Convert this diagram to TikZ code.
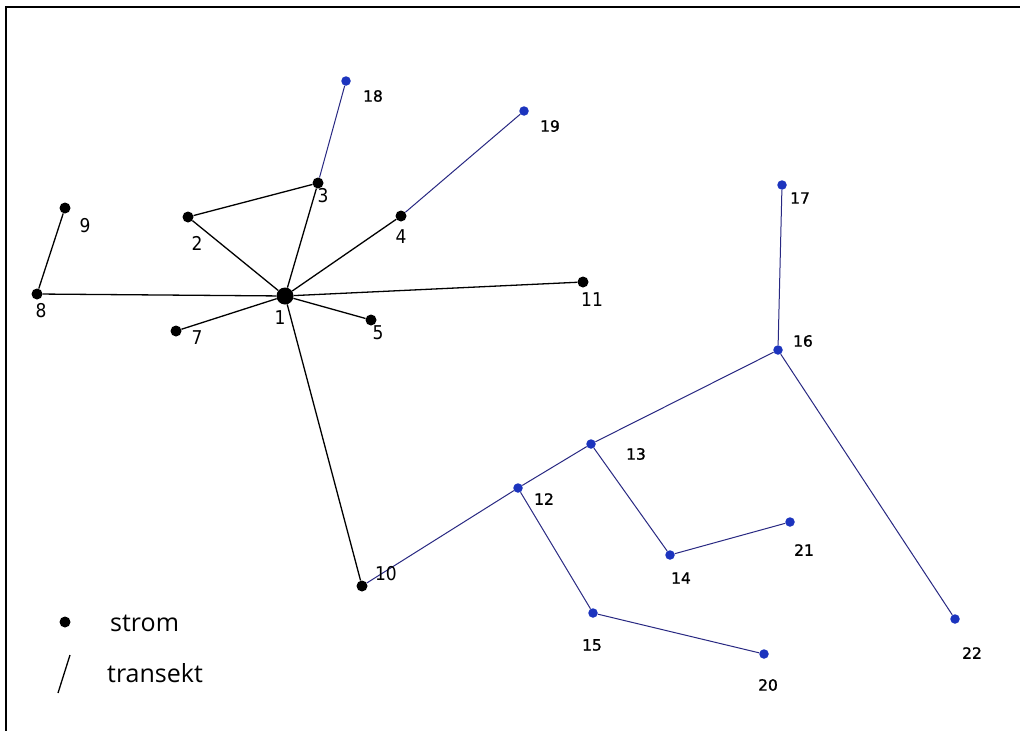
\documentclass[tikz,border=0pt]{standalone}
\usepackage{fontspec}
\setmainfont{DejaVu Sans}
\newfontfamily\legfont{Open Sans}
\newfontfamily\blkfont{DejaVu Sans Condensed}
\newfontfamily\blufont[FakeBold=1.2]{DejaVu Sans}
\definecolor{dotblue}{RGB}{28,52,190}
\definecolor{lineblue}{RGB}{40,40,130}
\begin{document}
\begin{tikzpicture}[x=1pt,y=-1pt,
  strom/.style={circle,fill=black,inner sep=0pt,minimum size=11pt},
  bigstrom/.style={circle,fill=black,inner sep=0pt,minimum size=17pt},
  bdot/.style={circle,fill=dotblue,inner sep=0pt,minimum size=9.5pt},
  blk/.style={black,line width=1.3pt},
  blu/.style={lineblue,line width=1pt},
  lab/.style={font=\blkfont\fontsize{19}{19}\selectfont,inner sep=0pt},
  blab/.style={font=\blufont\fontsize{15.5}{15.5}\selectfont,inner sep=0pt},
  leg/.style={font=\legfont\fontsize{25}{25}\selectfont,inner sep=0pt,anchor=west}]
\useasboundingbox (0,0) rectangle (1020,731);
\fill[white] (0,0) rectangle (1020,731);
\draw[line width=2pt] (1020,7) -- (6,7) -- (6,731);
% black nodes
\node[bigstrom] (n1) at (285,296) {};
\node[strom] (n2) at (188,217) {};
\node[strom] (n3) at (318,183) {};
\node[strom] (n4) at (401,216) {};
\node[strom] (n5) at (371,320) {};
\node[strom] (n7) at (176,331) {};
\node[strom] (n8) at (37,294) {};
\node[strom] (n9) at (65,208) {};
\node[strom] (n10) at (362,586) {};
\node[strom] (n11) at (583,282) {};
% blue nodes
\node[bdot] (n12) at (518,488) {};
\node[bdot] (n13) at (591,444) {};
\node[bdot] (n14) at (670,555) {};
\node[bdot] (n15) at (593,613) {};
\node[bdot] (n16) at (778,350) {};
\node[bdot] (n17) at (782,185) {};
\node[bdot] (n18) at (346,81) {};
\node[bdot] (n19) at (524,111) {};
\node[bdot] (n20) at (764,654) {};
\node[bdot] (n21) at (790,522) {};
\node[bdot] (n22) at (955,619) {};
% black edges
\draw[blk] (n1) -- (n2);
\draw[blk] (n2) -- (n3);
\draw[blk] (n1) -- (n3);
\draw[blk] (n1) -- (n4);
\draw[blk] (n1) -- (n5);
\draw[blk] (n1) -- (n7);
\draw[blk] (n1) -- (n8);
\draw[blk] (n8) -- (n9);
\draw[blk] (n1) -- (n11);
\draw[blk] (n1) -- (n10);
% blue edges
\draw[blu] (n3) -- (n18);
\draw[blu] (n4) -- (n19);
\draw[blu] (n10) -- (n12);
\draw[blu] (n12) -- (n13);
\draw[blu] (n13) -- (n16);
\draw[blu] (n16) -- (n17);
\draw[blu] (n16) -- (n22);
\draw[blu] (n13) -- (n14);
\draw[blu] (n14) -- (n21);
\draw[blu] (n12) -- (n15);
\draw[blu] (n15) -- (n20);
% labels
\node[lab] (l1) at (280,318) {1};
\node[lab] (l2) at (197,243) {2};
\node[lab] (l3) at (323,196) {3};
\node[lab] (l4) at (401,237) {4};
\node[lab] (l5) at (378,333) {5};
\node[lab] (l7) at (197,338) {7};
\node[lab] (l8) at (41,311) {8};
\node[lab] (l9) at (85,226) {9};
\node[lab] (l10) at (386,574) {10};
\node[lab] (l11) at (592,300) {11};
\node[blab] (l12) at (544,499) {12};
\node[blab] (l13) at (636,454) {13};
\node[blab] (l14) at (681,578) {14};
\node[blab] (l15) at (592,645) {15};
\node[blab] (l16) at (803,341) {16};
\node[blab] (l17) at (800,198) {17};
\node[blab] (l18) at (373,96) {18};
\node[blab] (l19) at (550,126) {19};
\node[blab] (l20) at (768,685) {20};
\node[blab] (l21) at (804,550) {21};
\node[blab] (l22) at (972,653) {22};
% legend
\node[strom] (legdot) at (65,622) {};
\node[leg] (legstrom) at (110,623) {strom};
\coordinate (lega) at (58,693);
\coordinate (legb) at (70,655);
\draw[black,line width=1.3pt] (lega) -- (legb);
\node[leg] (legtran) at (107,673) {transekt};
\end{tikzpicture}
\end{document}
